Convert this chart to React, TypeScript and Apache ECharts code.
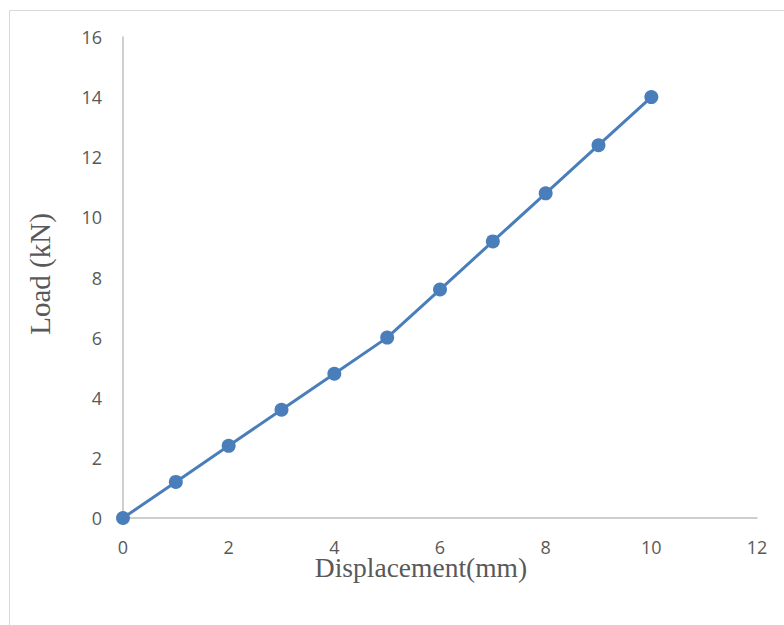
import React, { useEffect, useRef } from "react";
import * as echarts from "echarts";

const displacement = [0, 1, 2, 3, 4, 5, 6, 7, 8, 9, 10];
const load = [0, 1.2, 2.4, 3.6, 4.8, 6.0, 7.6, 9.2, 10.8, 12.4, 14.0];
const xTitle = "Displacement(mm)";
const yTitle = "Load (kN)";

export default function App() {
  const ref = useRef<HTMLDivElement>(null);
  useEffect(() => {
    document.body.style.margin = "0";
    const chart = echarts.init(ref.current!, null, { renderer: "svg" });
    const labelFont = { color: "#595959", fontSize: 18, fontFamily: "'Open Sans', sans-serif" };
    chart.setOption({
      animation: false,
      backgroundColor: "#ffffff",
      graphic: [
        {
          type: "rect",
          shape: { x: 9.5, y: 10.5, width: 800, height: 700 },
          style: { fill: "none", stroke: "#d9d9d9", lineWidth: 1 },
          silent: true,
        },
        {
          type: "text",
          x: 421,
          y: 567,
          style: {
            text: xTitle,
            fill: "#595959",
            fontSize: 27.5,
            fontFamily: "'Liberation Serif', 'Times New Roman', serif",
            align: "center",
            verticalAlign: "middle",
          },
        },
        {
          type: "text",
          x: 40,
          y: 274,
          rotation: Math.PI / 2,
          style: {
            text: yTitle,
            fill: "#595959",
            fontSize: 29,
            fontFamily: "'Liberation Serif', 'Times New Roman', serif",
            align: "center",
            verticalAlign: "middle",
          },
        },
      ],
      grid: { left: 123, top: 37, right: 27, bottom: 107 },
      xAxis: {
        type: "value",
        min: 0,
        max: 12,
        interval: 2,
        axisLine: { show: true, lineStyle: { color: "#bfbfbf", width: 1.5 } },
        axisTick: { show: false },
        splitLine: { show: false },
        axisLabel: { ...labelFont, margin: 20 },
      },
      yAxis: {
        type: "value",
        min: 0,
        max: 16,
        interval: 2,
        axisLine: { show: true, onZero: false, lineStyle: { color: "#bfbfbf", width: 1.5 } },
        axisTick: { show: false },
        splitLine: { show: false },
        axisLabel: { ...labelFont, margin: 21 },
      },
      series: [
        {
          type: "line",
          data: displacement.map((d, i) => [d, load[i]]),
          symbol: "circle",
          symbolSize: 14,
          itemStyle: { color: "#4A7EBB" },
          lineStyle: { color: "#4A7EBB", width: 3 },
        },
      ],
    });
    return () => chart.dispose();
  }, []);
  return <div ref={ref} style={{ position: "fixed", left: 0, top: 0, width: 784, height: 625 }} />;
}
